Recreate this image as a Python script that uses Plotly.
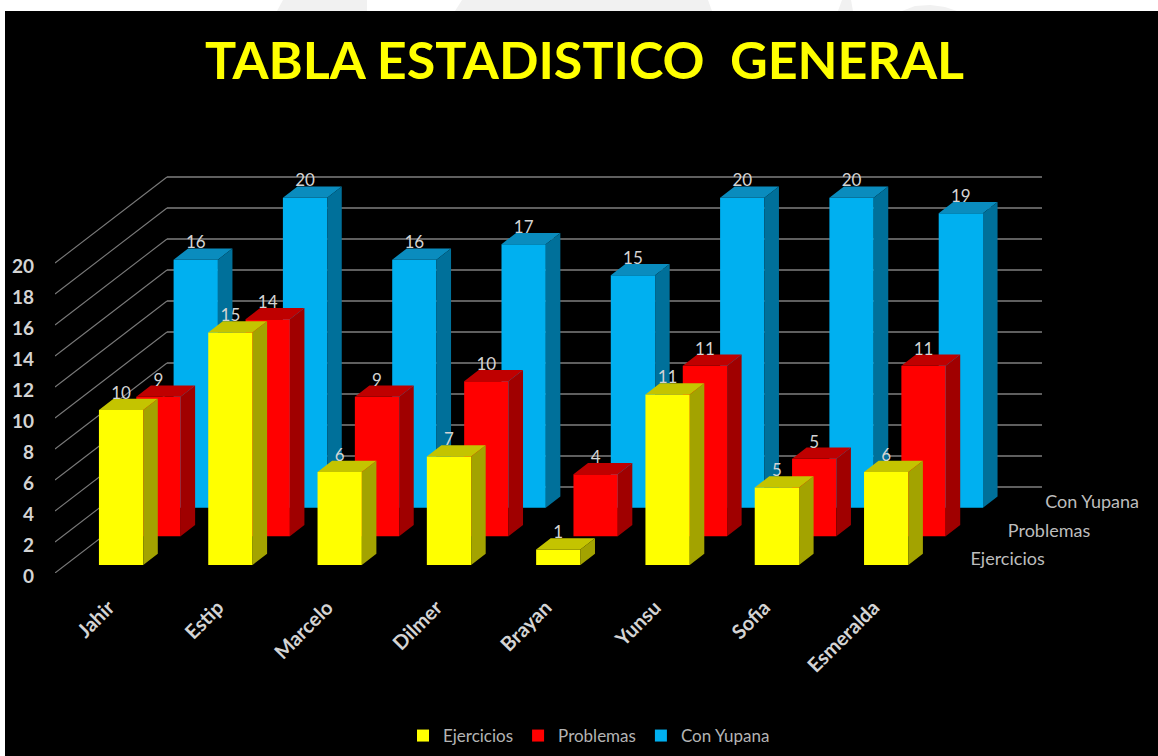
import plotly.graph_objects as go

categories = ["Jahir", "Estip", "Marcelo", "Dilmer", "Brayan", "Yunsu", "Sofia", "Esmeralda"]
ejercicios = [10, 15, 6, 7, 1, 11, 5, 6]
problemas = [9, 14, 9, 10, 4, 11, 5, 11]
con_yupana = [16, 20, 16, 17, 15, 20, 20, 19]
y_ticks = list(range(0, 21, 2))

series = [
    ("Ejercicios", ejercicios, "#FFFF00", "#C4C400", "#A3A300"),
    ("Problemas", problemas, "#FF0000", "#BF0000", "#A00000"),
    ("Con Yupana", con_yupana, "#00B0F0", "#0A8CBE", "#00709A"),
]

# pixel scale of the chart
PX_X, PX_Y = 109.3, 15.5
LEFT, BASE = 55, 573
DEPTH_X, DEPTH_Y = 37.33 / PX_X, 28.67 / PX_Y   # one row of depth, in axis units
ROW_START, THICK = 0.28, 0.39
BAR_W = 44.3 / PX_X
TXT = "#D4D4D4"
FONT = "Lato"
W, H = 1158, 756
TOP = 100
PLOT_W, PLOT_H = W - LEFT, BASE - TOP


def ox(d):
    return d * DEPTH_X


def oy(d):
    return d * DEPTH_Y


def paper_x(px):
    return (px - LEFT) / PLOT_W


def paper_y(py):
    return (BASE - py) / PLOT_H


fig = go.Figure()

# walls
sx, sy, bx, by = [], [], [], []
X0 = -0.509
X1 = X0 + (1042 - LEFT - 112) / PX_X
for t in y_ticks:
    sx += [X0, X0 + ox(3), None]
    sy += [t, t + oy(3), None]
    bx += [X0 + ox(3), X1 + ox(3), None]
    by += [t + oy(3), t + oy(3), None]
fig.add_trace(go.Scatter(x=sx, y=sy, mode="lines", line=dict(color="#7A7A7A", width=1.1),
                         showlegend=False, hoverinfo="skip", zorder=0))
fig.add_trace(go.Scatter(x=bx, y=by, mode="lines", line=dict(color="#7F7F7F", width=1.6),
                         showlegend=False, hoverinfo="skip", zorder=0))

# bars, back row first in z-order
for r, (name, vals, front, top, side) in enumerate(series):
    d0 = ROW_START + r
    d1 = d0 + THICK
    z = 10 * (len(series) - r)
    tx, ty, rx, ry = [], [], [], []
    for i, v in enumerate(vals):
        xl = i + ox(d0) - BAR_W / 2
        xr = i + ox(d0) + BAR_W / 2
        b0 = oy(d0)
        dx, dy = ox(d1) - ox(d0), oy(d1) - oy(d0)
        tx += [xl, xr, xr + dx, xl + dx, xl, None]
        ty += [b0 + v, b0 + v, b0 + v + dy, b0 + v + dy, b0 + v, None]
        rx += [xr, xr + dx, xr + dx, xr, xr, None]
        ry += [b0, b0 + dy, b0 + v + dy, b0 + v, b0, None]
    fig.add_trace(go.Bar(x=[i + ox(d0) for i in range(len(vals))], y=vals,
                         base=[oy(d0)] * len(vals), width=BAR_W, name=name,
                         marker=dict(color=front, line=dict(width=0)),
                         zorder=z, hoverinfo="skip"))
    fig.add_trace(go.Scatter(x=tx, y=ty, mode="lines", fill="toself", fillcolor=top,
                             line=dict(width=0, color=top), showlegend=False,
                             hoverinfo="skip", zorder=z + 1))
    fig.add_trace(go.Scatter(x=rx, y=ry, mode="lines", fill="toself", fillcolor=side,
                             line=dict(width=0, color=side), showlegend=False,
                             hoverinfo="skip", zorder=z + 1))

# data labels
for r, (name, vals, *_ ) in enumerate(series):
    d0 = ROW_START + r
    fig.add_trace(go.Scatter(
        x=[i + ox(d0) for i in range(len(vals))],
        y=[oy(d0) + v + 1.0 for v in vals],
        mode="text", text=[str(v) for v in vals], textposition="middle center",
        textfont=dict(family=FONT, size=17, color=TXT), showlegend=False,
        hoverinfo="skip", cliponaxis=False, zorder=100))

# depth axis labels
fig.add_trace(go.Scatter(
    x=[X1 + ox(r + 0.5) + 0.2 for r in range(3)],
    y=[oy(r + 0.5) - 0.13 for r in range(3)],
    mode="text", text=[s[0] for s in series], textposition="middle right",
    textfont=dict(family=FONT, size=18, color="#BDBDBD"), showlegend=False,
    hoverinfo="skip", cliponaxis=False, zorder=100))


def poly(points, color):
    path = "M" + " L".join(f"{paper_x(a):.5f},{paper_y(b):.5f}" for a, b in points) + " Z"
    return dict(type="path", xref="paper", yref="paper", path=path,
                line=dict(width=0), fillcolor=color, layer="below")


shapes = [
    poly([(5, 756), (1158, 756), (1158, 11), (5, 11)], "black"),
    poly([(277, 11), (283, 0), (367, 0), (367, 11)], "#F1F1F1"),
    poly([(455, 11), (462, 0), (708, 0), (712, 11)], "#F1F1F1"),
    poly([(838, 11), (842, 0), (851, 0), (853, 11)], "#F1F1F1"),
    poly([(902, 11), (915, 6), (930, 5), (945, 7), (957, 11)], "#F1F1F1"),
]

fig.update_layout(
    width=W, height=H,
    margin=dict(l=LEFT, r=0, t=TOP, b=H - BASE),
    paper_bgcolor="white", plot_bgcolor="rgba(0,0,0,0)",
    barmode="overlay",
    title=dict(text="TABLA ESTADISTICO  GENERAL", x=584.5 / W, xanchor="center",
               y=1 - 61 / H, yanchor="middle",
               font=dict(family=FONT, size=52, color="#FFFF00", weight="bold")),
    xaxis=dict(range=[X0, X0 + PLOT_W / PX_X], tickmode="array",
               tickvals=list(range(len(categories))), ticktext=categories,
               tickangle=-45, showgrid=False, zeroline=False, showline=False,
               ticks="", ticklabelstandoff=18, ticklabelshift=-2,
               tickfont=dict(family=FONT, size=20, color=TXT, weight=700)),
    yaxis=dict(range=[0, PLOT_H / PX_Y], tickmode="array", tickvals=y_ticks,
               showgrid=False, zeroline=False, showline=False, ticks="",
               ticklabelstandoff=20, ticklabelshift=3,
               tickfont=dict(family=FONT, size=19, color=TXT, weight=700)),
    legend=dict(orientation="h", x=paper_x(589), xanchor="center", y=paper_y(736),
                yanchor="middle", font=dict(family=FONT, size=17, color="#B4B4B4"),
                bgcolor="rgba(0,0,0,0)"),
    shapes=shapes,
)
fig.write_html("out.html", config=dict(displayModeBar=False),
               post_script="document.body.style.margin='0';document.body.style.overflow='hidden';")
